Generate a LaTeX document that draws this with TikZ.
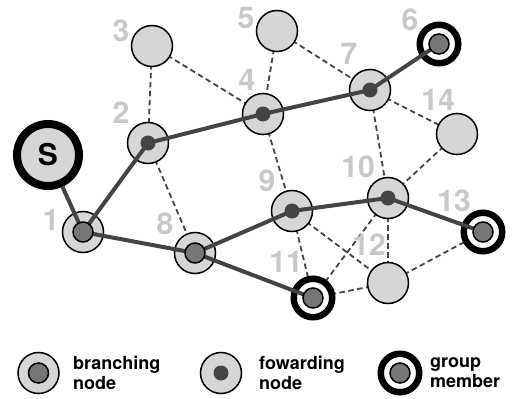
\documentclass[tikz,border=0pt]{standalone}
\usepackage{fontspec}
\setmainfont{TeX Gyre Heros}
\usetikzlibrary{backgrounds}
\definecolor{ndfill}{HTML}{D6D6D6}
\definecolor{labgray}{HTML}{C8C8C8}
\definecolor{edgecol}{HTML}{444444}
\definecolor{branchcol}{HTML}{777777}
\begin{document}
\begin{tikzpicture}[x=1pt,y=-1pt,
  nd/.style={circle,draw=black,line width=1.5pt,fill=ndfill,minimum size=41pt,inner sep=0pt},
  src/.style={circle,draw=black,line width=8pt,fill=ndfill,minimum size=62pt,inner sep=0pt,font=\fontsize{30}{30}\selectfont\bfseries},
  gm/.style={circle,draw=black,line width=6.5pt,fill=white,minimum size=38.5pt,inner sep=0pt},
  bdot/.style={circle,draw=black,line width=1.5pt,fill=branchcol,minimum size=20pt,inner sep=0pt},
  fdot/.style={circle,fill=edgecol,minimum size=15pt,inner sep=0pt},
  lab/.style={text=labgray,font=\fontsize{30}{30}\selectfont\bfseries,inner sep=0pt},
  leg/.style={anchor=west,align=left,inner sep=0pt,font=\fontsize{18}{20}\selectfont\bfseries},
  thick edge/.style={draw=edgecol,line width=4pt},
  dash edge/.style={draw=edgecol,line width=1.8pt,dash pattern=on 5.5pt off 3.5pt}]
\useasboundingbox (0,0) rectangle (515,399);
% nodes
\node[src] (S) at (48,155) {S};
\node[nd] (n1) at (83,232) {};
\node[nd] (n2) at (148,143) {};
\node[nd] (n3) at (152,46) {};
\node[nd] (n4) at (263,114) {};
\node[nd] (n5) at (277,31) {};
\node[gm] (n6) at (439,44) {};
\node[nd] (n7) at (370,90) {};
\node[nd] (n8) at (195,253) {};
\node[nd] (n9) at (292,211) {};
\node[nd] (n10) at (388,198) {};
\node[gm] (n11) at (313,298) {};
\node[nd] (n12) at (388,283) {};
\node[gm] (n13) at (483,232) {};
\node[nd] (n14) at (457,134) {};
% dashed edges
\begin{scope}[on background layer]
\draw[dash edge] (n3.center) -- (n2.center);
\draw[dash edge] (n3.center) -- (n4.center);
\draw[dash edge] (n5.center) -- (n4.center);
\draw[dash edge] (n5.center) -- (n7.center);
\draw[dash edge] (n4.center) -- (n9.center);
\draw[dash edge] (n2.center) -- (n8.center);
\draw[dash edge] (n7.center) -- (n14.center);
\draw[dash edge] (n7.center) -- (n10.center);
\draw[dash edge] (n14.center) -- (n10.center);
\draw[dash edge] (n9.center) -- (n11.center);
\draw[dash edge] (n9.center) -- (n12.center);
\draw[dash edge] (n10.center) -- (n11.center);
\draw[dash edge] (n10.center) -- (n12.center);
\draw[dash edge] (n11.center) -- (n12.center);
\draw[dash edge] (n12.center) -- (n13.center);
\end{scope}
% thick edges
\draw[thick edge] (S) -- (n1.center);
\draw[thick edge] (n1.center) -- (n2.center);
\draw[thick edge] (n2.center) -- (n4.center);
\draw[thick edge] (n4.center) -- (n7.center);
\draw[thick edge] (n7.center) -- (n6.center);
\draw[thick edge] (n1.center) -- (n8.center);
\draw[thick edge] (n8.center) -- (n9.center);
\draw[thick edge] (n9.center) -- (n10.center);
\draw[thick edge] (n10.center) -- (n13.center);
\draw[thick edge] (n8.center) -- (n11.center);
% inner dots
\node[bdot] (d1) at (n1.center) {};
\node[bdot] (d8) at (n8.center) {};
\node[bdot] (d6) at (n6.center) {};
\node[bdot] (d11) at (n11.center) {};
\node[bdot] (d13) at (n13.center) {};
\node[fdot] (d2) at (n2.center) {};
\node[fdot] (d4) at (n4.center) {};
\node[fdot] (d7) at (n7.center) {};
\node[fdot] (d9) at (n9.center) {};
\node[fdot] (d10) at (n10.center) {};
% labels
\node[lab] (l1) at (51,220) {1};
\node[lab] (l2) at (121,113) {2};
\node[lab] (l3) at (121,31) {3};
\node[lab] (l4) at (247,80) {4};
\node[lab] (l5) at (246,18) {5};
\node[lab] (l6) at (410,20) {6};
\node[lab] (l7) at (349,54) {7};
\node[lab] (l8) at (165,224) {8};
\node[lab] (l9) at (267,181) {9};
\node[lab] (l10) at (358,167) {10};
\node[lab] (l11) at (286,262) {11};
\node[lab] (l12) at (369,245) {12};
\node[lab] (l13) at (454,201) {13};
\node[lab] (l14) at (438,100) {14};
% legend
\node[nd] (kb) at (38.5,373) {};
\node[bdot] (kbd) at (kb.center) {};
\node[leg] (kbt) at (73,373) {branching\\node};
\node[nd] (kf) at (221,373) {};
\node[fdot] (kfd) at (kf.center) {};
\node[leg] (kft) at (259,373) {fowarding\\node};
\node[gm] (kg) at (400,373) {};
\node[bdot] (kgd) at (kg.center) {};
\node[leg] (kgt) at (430,373) {group\\member};
\end{tikzpicture}
\end{document}
